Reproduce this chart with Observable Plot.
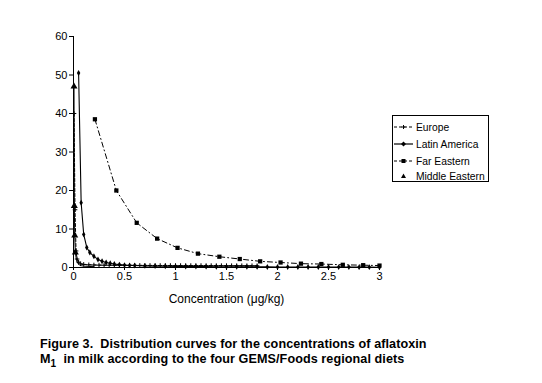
<!DOCTYPE html>
<html>
<head>
<meta charset="utf-8">
<script src="https://cdn.jsdelivr.net/npm/d3@7"></script>
<script src="https://cdn.jsdelivr.net/npm/@observablehq/plot@0.6"></script>
<style>
  html, body { margin: 0; padding: 0; background: #fff; }
  #wrap { position: relative; width: 542px; height: 383px; font-family: "Liberation Sans", Arial, sans-serif; }
  #chart { position: absolute; left: 0; top: 0; }
  #legend { position: absolute; left: 392px; top: 115px; width: 97px; height: 67px; border: 1px solid #000; box-sizing: border-box; font-size: 10.3px; }
  #legend .row { position: absolute; left: 0; height: 14px; display: flex; align-items: center; white-space: nowrap; }
  #legend .row svg { width: 19px; height: 10px; margin-right: 3px; flex: none; }
  #caption { position: absolute; left: 40px; top: 337px; font-size: 12.6px; font-weight: bold; line-height: 15px; white-space: nowrap; letter-spacing: 0.08px; }
</style>
</head>
<body>
<div id="wrap">
  <div id="chart"></div>
  <div id="legend"></div>
  <div id="caption">Figure 3.&nbsp; Distribution curves for the concentrations of aflatoxin<br>M<sub style="font-size:10px;line-height:0">1</sub>&nbsp; in milk according to the four GEMS/Foods regional diets</div>
</div>
<script>
// ---- data ----
const europeX = [0.005, 0.015, 0.025, 0.035, 0.05, 0.07, 0.1, 0.15, 0.2, 0.25, 0.3, 0.35, 0.4, 0.45, 0.5, 0.55, 0.6, 0.65, 0.7, 0.75, 0.8, 0.85, 0.9, 0.95, 1.0, 1.05, 1.1, 1.15, 1.2, 1.25, 1.3, 1.35, 1.4, 1.45, 1.5, 1.55, 1.6, 1.65, 1.7, 1.75, 1.8];
const europeY = [40, 15, 4.3, 2.2, 1.4, 0.95, 0.8, 0.7, 0.65, 0.62, 0.6, 0.6, 0.58, 0.57, 0.56, 0.55, 0.55, 0.54, 0.54, 0.53, 0.53, 0.52, 0.52, 0.52, 0.51, 0.51, 0.5, 0.5, 0.5, 0.5, 0.49, 0.49, 0.48, 0.48, 0.48, 0.47, 0.47, 0.46, 0.46, 0.45, 0.45];

const latinX = [0.05, 0.075, 0.1, 0.13, 0.16, 0.2, 0.24, 0.28, 0.32, 0.36, 0.4, 0.45, 0.5, 0.55, 0.6, 0.7, 0.8, 0.9, 1.0, 1.1, 1.2, 1.3, 1.4, 1.5, 1.6, 1.7, 1.8, 1.9, 2.0, 2.1, 2.2, 2.3, 2.4, 2.5, 2.6, 2.7, 2.8, 2.9, 3.0];
const latinY = [50.5, 16.8, 8.6, 5.2, 3.9, 2.9, 2.1, 1.6, 1.3, 1.1, 0.9, 0.75, 0.62, 0.55, 0.5, 0.42, 0.36, 0.32, 0.29, 0.26, 0.24, 0.22, 0.2, 0.19, 0.18, 0.17, 0.16, 0.15, 0.14, 0.13, 0.13, 0.12, 0.11, 0.11, 0.1, 0.1, 0.09, 0.09, 0.08];

const farEastX = [0.21, 0.42, 0.62, 0.82, 1.02, 1.22, 1.43, 1.63, 1.83, 2.03, 2.23, 2.43, 2.64, 2.84, 3.0];
const farEastY = [38.5, 20, 11.6, 7.5, 5.1, 3.6, 2.8, 2.2, 1.6, 1.3, 1.0, 0.9, 0.7, 0.6, 0.5];

const midEastX = [0.005, 0.008, 0.012, 0.018, 0.03, 0.045, 0.06, 0.08, 0.1, 0.15, 0.2];
const midEastY = [47, 16, 8.3, 3.9, 1.8, 1.0, 0.6, 0.45, 0.35, 0.28, 0.22];

const xTicks = [0, 0.5, 1, 1.5, 2, 2.5, 3];
const xTickLabels = ["0", "0.5", "1", "1.5", "2", "2.5", "3"];
const yTicks = [0, 10, 20, 30, 40, 50, 60];

const seriesNames = ["Europe", "Latin America", "Far Eastern", "Middle Eastern"];

const zip = (xs, ys) => xs.map((x, i) => ({x, y: ys[i]}));
const europe = zip(europeX, europeY);
const latin = zip(latinX, latinY);
const farEast = zip(farEastX, farEastY);
const midEast = zip(midEastX, midEastY);

const chart = Plot.plot({
  width: 542,
  height: 320,
  marginLeft: 73,
  marginRight: 163,
  marginTop: 36,
  marginBottom: 53,
  style: {fontFamily: "'Liberation Sans', Arial, sans-serif", fontSize: "11px", color: "#000", background: "#fff"},
  x: {domain: [0, 3], ticks: xTicks, tickFormat: (d, i) => xTickLabels[xTicks.indexOf(d)], label: null},
  y: {domain: [0, 60], ticks: yTicks, label: null},
  marks: [
    Plot.line(midEast, {x: "x", y: "y", stroke: "#000", strokeWidth: 1}),
    Plot.line(europe, {x: "x", y: "y", stroke: "#000", strokeWidth: 1, strokeDasharray: "3,2"}),
    Plot.line(latin, {x: "x", y: "y", stroke: "#000", strokeWidth: 1.1}),
    Plot.line(farEast, {x: "x", y: "y", stroke: "#000", strokeWidth: 1, strokeDasharray: "5,3,1,3"}),
    Plot.dot(europe, {x: "x", y: "y", symbol: "plus", r: 1.6, stroke: "#000", strokeWidth: 1}),
    Plot.dot(latin, {x: "x", y: "y", symbol: "diamond", r: 1.8, fill: "#000", stroke: null}),
    Plot.dot(farEast, {x: "x", y: "y", symbol: "square", r: 2.4, fill: "#000", stroke: null}),
    Plot.dot(midEast.slice(0, 4), {x: "x", y: "y", symbol: "triangle", r: 2.6, fill: "#000", stroke: null}),
    Plot.axisY({ticks: yTicks, tickSize: 4, tickPadding: 2, stroke: "#000", fill: "#000"}),
    Plot.axisX({ticks: xTicks, tickSize: 3, tickPadding: 2, stroke: "#000", fill: "#000", tickFormat: d => xTickLabels[xTicks.indexOf(d)]}),
    Plot.ruleX([0], {stroke: "#000"}),
    Plot.ruleY([0], {stroke: "#000"}),
    Plot.text(["Concentration (\u03BCg/kg)"], {frameAnchor: "bottom", dy: 35, fontSize: 12, fill: "#000", text: d => d})
  ]
});
document.getElementById("chart").appendChild(chart);

// ---- legend ----
const legend = document.getElementById("legend");
const legendSym = [
  `<line x1="0" y1="5" x2="19" y2="5" stroke="#000" stroke-dasharray="3,2"/><path d="M7.5,5h4M9.5,3v4" stroke="#000"/>`,
  `<line x1="0" y1="5" x2="19" y2="5" stroke="#000" stroke-width="1.2"/><path d="M9.5,2.5L12,5L9.5,7.5L7,5Z" fill="#000"/>`,
  `<line x1="0" y1="5" x2="19" y2="5" stroke="#000" stroke-dasharray="3,2"/><rect x="7.5" y="3" width="4" height="4" fill="#000"/>`,
  `<path d="M9.5,2.5L12,7L7,7Z" fill="#000"/>`
];
const rowTops = [4, 21, 38, 53];
seriesNames.forEach((name, i) => {
  const row = document.createElement("div");
  row.className = "row";
  row.style.top = rowTops[i] + "px";
  row.style.left = "1px";
  row.innerHTML = `<svg viewBox="0 0 19 10">${legendSym[i]}</svg><span>${name}</span>`;
  legend.appendChild(row);
});
</script>
</body>
</html>
